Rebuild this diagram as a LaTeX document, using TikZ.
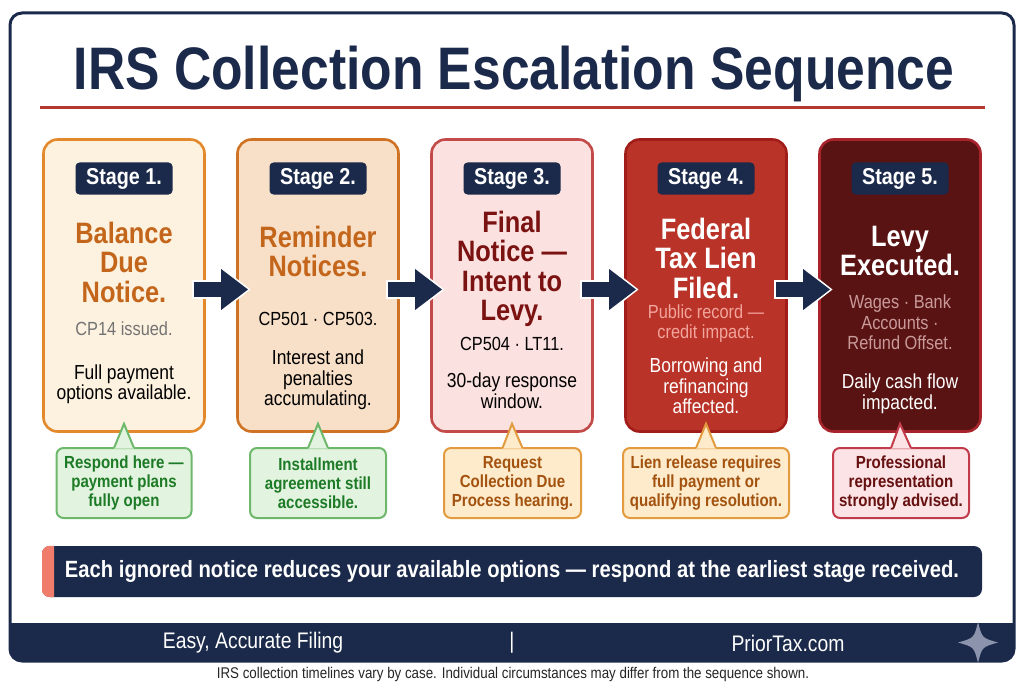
\documentclass[tikz,border=0pt]{standalone}
\usepackage{fontspec}
\setmainfont{Liberation Sans}[FakeStretch=0.86]
\usepackage{tikz}
\usetikzlibrary{arrows.meta,positioning}
\definecolor{navy}{HTML}{1B2A4A}
\definecolor{rulered}{HTML}{B5372F}
\definecolor{amberline}{HTML}{E3892B}
\definecolor{amberfill}{HTML}{FDF2DF}
\definecolor{ambertext}{HTML}{C3661B}
\definecolor{peachline}{HTML}{CF7223}
\definecolor{peachfill}{HTML}{F8E0C8}
\definecolor{blushline}{HTML}{C24A48}
\definecolor{blushfill}{HTML}{FBE1DF}
\definecolor{blushtext}{HTML}{7B1212}
\definecolor{lienline}{HTML}{A11D1A}
\definecolor{lienfill}{HTML}{B93328}
\definecolor{liensub}{HTML}{F2A59C}
\definecolor{levyline}{HTML}{A8232B}
\definecolor{levyfill}{HTML}{5A1313}
\definecolor{levysub}{HTML}{C99A9A}
\definecolor{greenfill}{HTML}{E2F4DF}
\definecolor{greenline}{HTML}{6DB86B}
\definecolor{greentext}{HTML}{1D7A26}
\definecolor{yellowfill}{HTML}{FDEBCB}
\definecolor{yellowline}{HTML}{E29B3E}
\definecolor{yellowtext}{HTML}{A3530F}
\definecolor{pinkfill}{HTML}{FCE3E6}
\definecolor{pinkline}{HTML}{C13B4A}
\definecolor{pinktext}{HTML}{661010}
\definecolor{salmon}{HTML}{F07C6C}
\definecolor{starcol}{HTML}{8B93AD}

\begin{document}
\begin{tikzpicture}[x=1pt,y=-1pt,
  stage/.style={rounded corners=14pt, line width=2.6pt, minimum width=161pt, minimum height=292pt, inner sep=0pt},
  pale/.style={stage, draw=amberline, fill=amberfill},
  peach/.style={stage, draw=peachline, fill=peachfill},
  blush/.style={stage, draw=blushline, fill=blushfill},
  lien/.style={stage, draw=lienline, fill=lienfill},
  levy/.style={stage, draw=levyline, fill=levyfill},
  tag/.style={fill=navy, rounded corners=4pt, text=white, font=\bfseries\fontsize{23}{23}\selectfont, minimum width=97pt, minimum height=32pt, inner sep=0pt},
  head/.style={font=\bfseries\fontsize{29.5}{29.5}\selectfont, align=center, inner sep=0pt},
  sub/.style={font=\fontsize{19}{20.5}\selectfont, align=center, inner sep=0pt},
  body/.style={font=\fontsize{20.3}{20.5}\selectfont, align=center, inner sep=0pt},
  flow/.style={navy, line width=15pt, -{Triangle[length=27pt,width=39pt]}, shorten <=-12pt, shorten >=-12pt},
  flowbg/.style={white, line width=19pt, -{Triangle[length=31pt,width=46pt]}, shorten <=-14pt, shorten >=-14.5pt},
  note/.style={rounded corners=7pt, line width=2pt, align=center, font=\bfseries\fontsize{17.5}{19}\selectfont, minimum height=70pt, inner sep=0pt},
  tipg/.style={note, draw=greenline, fill=greenfill, text=greentext},
  tipo/.style={note, draw=yellowline, fill=yellowfill, text=yellowtext},
  tipp/.style={note, draw=pinkline, fill=pinkfill, text=pinktext},
  foot/.style={text=white, font=\fontsize{22.5}{22.5}\selectfont, inner sep=0pt}]
  \useasboundingbox (0,0) rectangle (1024,687);
  \fill[white] (0,0) rectangle (1024,687);
  % frame and footer band
  \begin{scope}
    \clip (0,623) rectangle (1024,687);
    \fill[navy, rounded corners=12pt] (10,590) rectangle (1014,661);
  \end{scope}
  \draw[navy, line width=3pt, rounded corners=12pt] (10,13) rectangle (1014,661);
  % title
  \node[font=\bfseries\fontsize{60}{60}\selectfont, text=navy, inner sep=0pt, anchor=base] (title) at (514,90) {IRS Collection Escalation Sequence};
  \draw[rulered, line width=3pt] (40,108) -- (985,108);
  % stages
  \node[pale]  (s1) at (124,285.5) {};
  \node[peach] (s2) at (318,285.5) {};
  \node[blush] (s3) at (512,285.5) {};
  \node[lien]  (s4) at (706,285.5) {};
  \node[levy]  (s5) at (900,285.5) {};
  \foreach \i in {1,...,5}
    \node[tag] (t\i) at ({124+194*(\i-1)},178.5) {Stage \i.};
  \node[head, text=ambertext] (h1) at (124,262) {Balance\\Due\\Notice.};
  \node[sub, text=black!55] (p1) at (124,329) {CP14 issued.};
  \node[body] (b1) at (124,384) {Full payment\\options available.};
  \node[head, text=ambertext] (h2) at (318,251.5) {Reminder\\Notices.};
  \node[sub] (p2) at (318,319) {CP501 · CP503.};
  \node[body] (b2) at (318,380) {Interest and\\penalties\\accumulating.};
  \node[head, text=blushtext] (h3) at (512,269) {Final\\Notice —\\Intent to\\Levy.};
  \node[sub] (p3) at (512,344) {CP504 · LT11.};
  \node[body] (b3) at (512,390.5) {30-day response\\window.};
  \node[head, text=white] (h4) at (706,258) {Federal\\Tax Lien\\Filed.};
  \node[sub, text=liensub] (p4) at (706,323.5) {Public record —\\credit impact.};
  \node[body, text=white] (b4) at (706,386) {Borrowing and\\refinancing\\affected.};
  \node[head, text=white] (h5) at (900,251) {Levy\\Executed.};
  \node[sub, text=levysub] (p5) at (900,322.5) {Wages · Bank\\Accounts ·\\Refund Offset.};
  \node[body, text=white] (b5) at (900,393.5) {Daily cash flow\\impacted.};
  % escalation arrows
  \foreach \i/\j in {1/2,2/3,3/4,4/5} {
    \draw[flowbg] ([yshift=-4pt]s\i.east) -- ([yshift=-4pt]s\j.west);
    \draw[flow] ([yshift=-4pt]s\i.east) -- ([yshift=-4pt]s\j.west);
  }
  % callouts
  \node[tipg, minimum width=135pt] (c1) at (124,483) {Respond here —\\payment plans\\fully open};
  \node[tipg, minimum width=136pt] (c2) at (318,483) {Installment\\agreement still\\accessible.};
  \node[tipo, minimum width=137pt] (c3) at (512.5,483) {Request\\Collection Due\\Process hearing.};
  \node[tipo, minimum width=166pt] (c4) at (706,483) {Lien release requires\\full payment or\\qualifying resolution.};
  \node[tipp, minimum width=136pt] (c5) at (901,483) {Professional\\representation\\strongly advised.};
  \foreach \i/\f/\d in {1/greenfill/greenline,2/greenfill/greenline,3/yellowfill/yellowline,4/yellowfill/yellowline,5/pinkfill/pinkline} {
    \fill[\f] ([xshift=-10pt,yshift=-1.5pt]c\i.north) -- ([yshift=9pt]s\i.south) -- ([xshift=10pt,yshift=-1.5pt]c\i.north) -- cycle;
    \draw[\d, line width=2pt] ([xshift=-10pt,yshift=-1pt]c\i.north) -- ([yshift=9pt]s\i.south) -- ([xshift=10pt,yshift=-1pt]c\i.north);
  }
  % warning banner
  \node[fill=navy, rounded corners=8pt, minimum width=940pt, minimum height=51pt, inner sep=0pt, text=white, font=\bfseries\fontsize{23.5}{23.5}\selectfont] (warn) at (512,571.5) {Each ignored notice reduces your available options — respond at the earliest stage received.};
  \begin{scope}
    \clip (42,540) rectangle (54,600);
    \fill[salmon, rounded corners=8pt] (warn.south west) rectangle (warn.north east);
  \end{scope}
  % footer
  \node[foot] (slogan) at (253,643) {Easy, Accurate Filing};
  \node[foot] (bar) at (512,643) {|};
  \node[foot] (site) at (788,643) {PriorTax.com};
  \fill[starcol] (978,622) .. controls (982,638) .. (998,642.5) .. controls (982,647) .. (978,663) .. controls (974,647) .. (958,642.5) .. controls (974,638) .. (978,622) -- cycle;
  \node[font=\fontsize{15.5}{15.5}\selectfont, text=black!85, inner sep=0pt] (disclaimer) at (513,674) {IRS collection timelines vary by case. Individual circumstances may differ from the sequence shown.};
\end{tikzpicture}
\end{document}
